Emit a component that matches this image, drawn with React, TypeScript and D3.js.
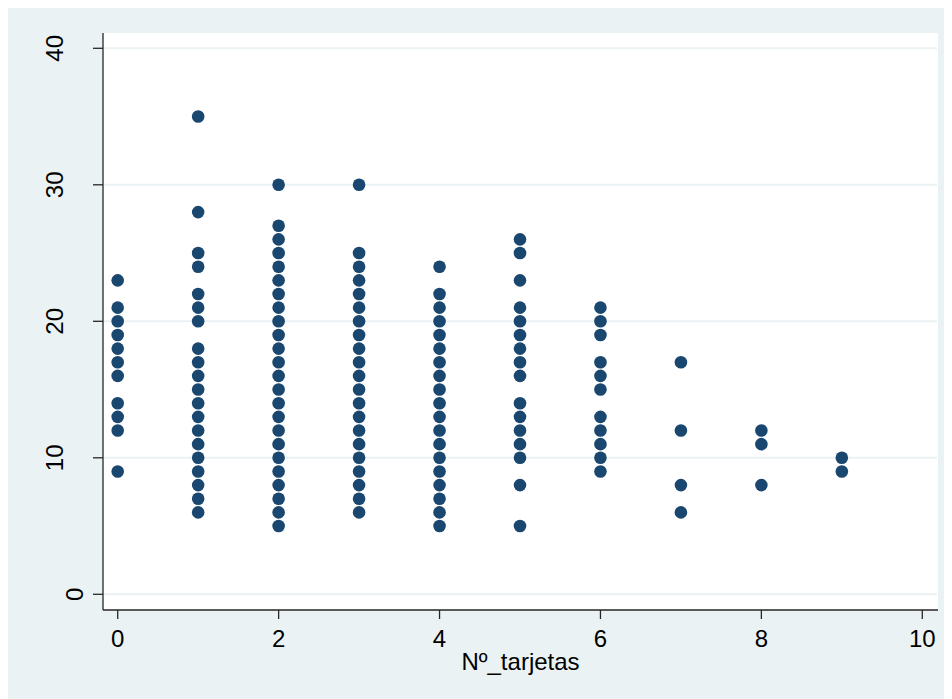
import React from "react";
import * as d3 from "d3";

// Data (x = Nº_tarjetas, y = values at that x)
const col0 = [23, 21, 20, 19, 18, 17, 16, 14, 13, 12, 9];
const col1 = [35, 28, 25, 24, 22, 21, 20, 18, 17, 16, 15, 14, 13, 12, 11, 10, 9, 8, 7, 6];
const col2 = [30, 27, 26, 25, 24, 23, 22, 21, 20, 19, 18, 17, 16, 15, 14, 13, 12, 11, 10, 9, 8, 7, 6, 5];
const col3 = [30, 25, 24, 23, 22, 21, 20, 19, 18, 17, 16, 15, 14, 13, 12, 11, 10, 9, 8, 7, 6];
const col4 = [24, 22, 21, 20, 19, 18, 17, 16, 15, 14, 13, 12, 11, 10, 9, 8, 7, 6, 5];
const col5 = [26, 25, 23, 21, 20, 19, 18, 17, 16, 14, 13, 12, 11, 10, 8, 5];
const col6 = [21, 20, 19, 17, 16, 15, 13, 12, 11, 10, 9];
const col7 = [17, 12, 8, 6];
const col8 = [12, 11, 8];
const col9 = [10, 9];
const xCategories = [0, 1, 2, 3, 4, 5, 6, 7, 8, 9];
const columns = [col0, col1, col2, col3, col4, col5, col6, col7, col8, col9];
const xTicks = [0, 2, 4, 6, 8, 10];
const yTicks = [0, 10, 20, 30, 40];
const xTitle = "Nº_tarjetas";

const W = 944;
const H = 691;
const plot = { left: 95, top: 25, right: 930, bottom: 602 };
const BG = "#EAF2F3";
const MARK = "#1A476F";
const FONT = "'Liberation Sans', Arial, Helvetica, sans-serif";

export default function App() {
  const x = d3.scaleLinear().domain([0, 10]).range([109.7, 914.3]);
  const y = d3.scaleLinear().domain([0, 40]).range([586.3, 40.3]);

  const points: { x: number; y: number }[] = [];
  xCategories.forEach((cx, i) => {
    columns[i].forEach((v) => points.push({ x: cx, y: v }));
  });

  return (
    <svg width={W} height={H} style={{ display: "block" }}>
      <rect x={0} y={0} width={W} height={H} fill={BG} />
      <rect
        x={plot.left}
        y={plot.top}
        width={plot.right - plot.left}
        height={plot.bottom - plot.top}
        fill="#ffffff"
      />
      {yTicks.map((t) => (
        <line
          key={"g" + t}
          x1={plot.left}
          x2={plot.right - 1}
          y1={y(t)}
          y2={y(t)}
          stroke={BG}
          strokeWidth={2}
        />
      ))}
      {points.map((p, i) => (
        <circle key={i} cx={x(p.x)} cy={y(p.y)} r={6.3} fill={MARK} />
      ))}
      {/* axes */}
      <line x1={plot.left} x2={plot.left} y1={plot.top} y2={plot.bottom} stroke="#262626" strokeWidth={1.3} />
      <line x1={plot.left} x2={plot.right} y1={plot.bottom} y2={plot.bottom} stroke="#262626" strokeWidth={1.3} />
      {yTicks.map((t) => {
        const label = String(t);
        const bx = plot.left - 20 - 20 * (label.length - 1);
        return (
          <g key={"y" + t}>
            <line x1={plot.left - 10} x2={plot.left} y1={y(t)} y2={y(t)} stroke="#262626" strokeWidth={1.3} />
            <text
              x={bx}
              y={y(t)}
              transform={`rotate(-90 ${bx} ${y(t)})`}
              textAnchor="middle"
              fontFamily={FONT}
              fontSize={24}
              fill="#000"
            >
              {label}
            </text>
          </g>
        );
      })}
      {xTicks.map((t) => (
        <g key={"x" + t}>
          <line x1={x(t)} x2={x(t)} y1={plot.bottom} y2={plot.bottom + 9} stroke="#262626" strokeWidth={1.3} />
          <text x={x(t)} y={639} textAnchor="middle" fontFamily={FONT} fontSize={24} fill="#000">
            {t}
          </text>
        </g>
      ))}
      <text
        x={(plot.left + plot.right) / 2}
        y={662}
        textAnchor="middle"
        fontFamily={FONT}
        fontSize={24}
        fill="#000"
      >
        {xTitle}
      </text>
    </svg>
  );
}
